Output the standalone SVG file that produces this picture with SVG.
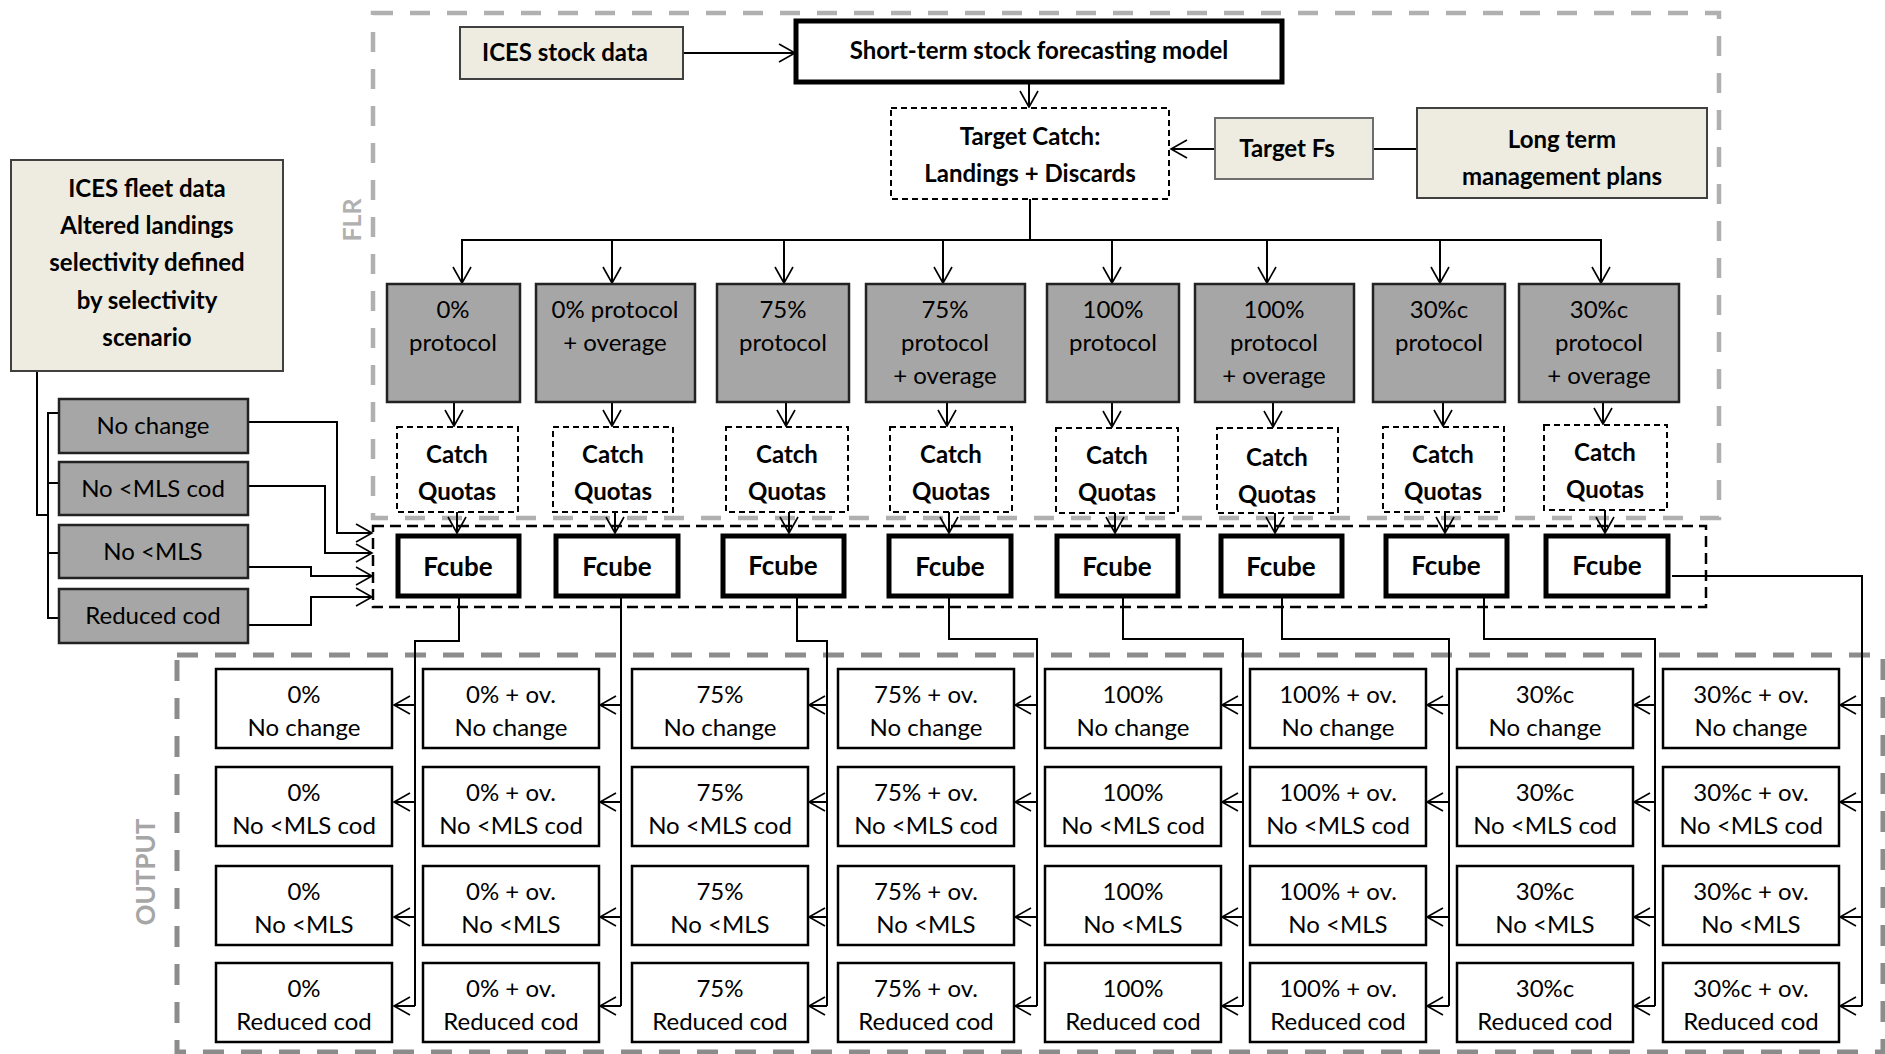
<svg xmlns="http://www.w3.org/2000/svg" width="1885" height="1054" viewBox="0 0 1885 1054">
<defs>
<marker id="arr" markerWidth="20" markerHeight="22" refX="17" refY="10" orient="auto" markerUnits="userSpaceOnUse"><path d="M1,1 L17,10 L1,19" fill="none" stroke="#000" stroke-width="1.6"/></marker>
<style>
text{font-family:Lato,"Liberation Sans",sans-serif;text-anchor:middle;fill:#000}
.b{font-weight:bold}
.t24{font-size:24px}
.beige{fill:#eeece1;stroke:#404040;stroke-width:2}
.grey{fill:#a6a6a6;stroke:#222;stroke-width:2.5}
.out{fill:#fff;stroke:#000;stroke-width:2.5}
.cq{fill:#fff;stroke:#000;stroke-width:2;stroke-dasharray:6 4}
.fc{fill:#fff;stroke:#000;stroke-width:5}
.c{fill:none;stroke:#000;stroke-width:2}
.a{fill:none;stroke:#000;stroke-width:2;marker-end:url(#arr)}
</style>
</defs>
<rect width="1885" height="1054" fill="#fff"/>

<g id="flr-region">
<rect x="373" y="13" width="1346" height="505" fill="none" stroke="#b0b0b0" stroke-width="4.5" stroke-dasharray="20 17"/>
<text class="b" x="352" y="229" font-size="25" style="fill:#b0b0b0" transform="rotate(-90 352 220)">FLR</text>
</g>
<g id="output-region">
<rect x="177" y="655" width="1706" height="397" fill="none" stroke="#8c8c8c" stroke-width="5" stroke-dasharray="21 17"/>
<text class="b" x="146" y="881" font-size="26" style="fill:#a6a6a6" transform="rotate(-90 146 872)">OUTPUT</text>
</g>
<g id="fcube-region">
<rect x="373" y="526" width="1333" height="81" fill="none" stroke="#000" stroke-width="2.5" stroke-dasharray="11 6"/>
</g>

<g id="connectors">
<line class="a" x1="683" y1="53" x2="795" y2="53"/>
<line class="a" x1="1029" y1="84" x2="1029" y2="107"/>
<line class="c" x1="1417" y1="149" x2="1373" y2="149"/>
<line class="a" x1="1215" y1="149" x2="1171" y2="149"/>
<line class="c" x1="1030" y1="199" x2="1030" y2="240"/>
<line class="c" x1="461" y1="240" x2="1602" y2="240"/>
<line class="a" x1="462" y1="240" x2="462" y2="283"/>
<line class="a" x1="612" y1="240" x2="612" y2="283"/>
<line class="a" x1="784" y1="240" x2="784" y2="283"/>
<line class="a" x1="943" y1="240" x2="943" y2="283"/>
<line class="a" x1="1112" y1="240" x2="1112" y2="283"/>
<line class="a" x1="1267" y1="240" x2="1267" y2="283"/>
<line class="a" x1="1440" y1="240" x2="1440" y2="283"/>
<line class="a" x1="1601" y1="240" x2="1601" y2="283"/>
<line class="a" x1="454" y1="403" x2="454" y2="426"/>
<line class="a" x1="612" y1="403" x2="612" y2="426"/>
<line class="a" x1="786" y1="403" x2="786" y2="426"/>
<line class="a" x1="947" y1="403" x2="947" y2="426"/>
<line class="a" x1="1112" y1="403" x2="1112" y2="427"/>
<line class="a" x1="1273" y1="403" x2="1273" y2="427"/>
<line class="a" x1="1443" y1="403" x2="1443" y2="426"/>
<line class="a" x1="1603" y1="403" x2="1603" y2="424"/>
<line class="a" x1="457" y1="512" x2="457" y2="533"/>
<line class="a" x1="615" y1="512" x2="615" y2="533"/>
<line class="a" x1="789" y1="512" x2="789" y2="533"/>
<line class="a" x1="949" y1="512" x2="949" y2="533"/>
<line class="a" x1="1115" y1="513" x2="1115" y2="533"/>
<line class="a" x1="1275" y1="513" x2="1275" y2="533"/>
<line class="a" x1="1445" y1="512" x2="1445" y2="533"/>
<line class="a" x1="1605" y1="510" x2="1605" y2="533"/>
<polyline class="c" points="37,371 37,515 48,515"/>
<line class="c" x1="48" y1="412" x2="48" y2="619"/>
<line class="c" x1="48" y1="413" x2="59" y2="413"/>
<line class="c" x1="48" y1="483" x2="59" y2="483"/>
<line class="c" x1="48" y1="553" x2="59" y2="553"/>
<line class="c" x1="48" y1="618" x2="59" y2="618"/>
<polyline class="a" points="248,422 337,422 337,533 372,533"/>
<polyline class="a" points="248,486 325,486 325,553 372,553"/>
<polyline class="a" points="248,567 311,567 311,576 372,576"/>
<polyline class="a" points="248,625 311,625 311,597 372,597"/>
<polyline class="c" points="459,598 459,641 415,641 415,1006"/>
<polyline class="c" points="621,598 621,1006"/>
<polyline class="c" points="797,598 797,641 827,641 827,1006"/>
<polyline class="c" points="949,598 949,639 1037,639 1037,1006"/>
<polyline class="c" points="1123,598 1123,639 1243,639 1243,1006"/>
<polyline class="c" points="1282,598 1282,639 1449,639 1449,1006"/>
<polyline class="c" points="1484,598 1484,639 1655,639 1655,1006"/>
<polyline class="c" points="1672,576 1862,576 1862,1006"/>
<g id="out-arrows">
<line class="a" x1="415" y1="705" x2="394" y2="705"/><line class="a" x1="415" y1="802" x2="394" y2="802"/><line class="a" x1="415" y1="917" x2="394" y2="917"/><line class="a" x1="415" y1="1006" x2="394" y2="1006"/>
<line class="a" x1="621" y1="705" x2="600" y2="705"/><line class="a" x1="621" y1="802" x2="600" y2="802"/><line class="a" x1="621" y1="917" x2="600" y2="917"/><line class="a" x1="621" y1="1006" x2="600" y2="1006"/>
<line class="a" x1="827" y1="705" x2="809" y2="705"/><line class="a" x1="827" y1="802" x2="809" y2="802"/><line class="a" x1="827" y1="917" x2="809" y2="917"/><line class="a" x1="827" y1="1006" x2="809" y2="1006"/>
<line class="a" x1="1037" y1="705" x2="1015" y2="705"/><line class="a" x1="1037" y1="802" x2="1015" y2="802"/><line class="a" x1="1037" y1="917" x2="1015" y2="917"/><line class="a" x1="1037" y1="1006" x2="1015" y2="1006"/>
<line class="a" x1="1243" y1="705" x2="1222" y2="705"/><line class="a" x1="1243" y1="802" x2="1222" y2="802"/><line class="a" x1="1243" y1="917" x2="1222" y2="917"/><line class="a" x1="1243" y1="1006" x2="1222" y2="1006"/>
<line class="a" x1="1449" y1="705" x2="1427" y2="705"/><line class="a" x1="1449" y1="802" x2="1427" y2="802"/><line class="a" x1="1449" y1="917" x2="1427" y2="917"/><line class="a" x1="1449" y1="1006" x2="1427" y2="1006"/>
<line class="a" x1="1655" y1="705" x2="1634" y2="705"/><line class="a" x1="1655" y1="802" x2="1634" y2="802"/><line class="a" x1="1655" y1="917" x2="1634" y2="917"/><line class="a" x1="1655" y1="1006" x2="1634" y2="1006"/>
<line class="a" x1="1862" y1="705" x2="1840" y2="705"/><line class="a" x1="1862" y1="802" x2="1840" y2="802"/><line class="a" x1="1862" y1="917" x2="1840" y2="917"/><line class="a" x1="1862" y1="1006" x2="1840" y2="1006"/>
</g>
</g>

<g id="ices-stock"><rect class="beige" x="460" y="27" width="223" height="52"/><text class="b t24" x="565" y="61">ICES stock data</text></g>
<g id="short-term"><rect x="796" y="21" width="486" height="61" fill="#fff" stroke="#000" stroke-width="5"/><text class="b" font-size="24" x="1039" y="59">Short-term stock forecasting model</text></g>
<g id="target-catch"><rect class="cq" x="891" y="108" width="278" height="91"/><text class="b t24" x="1030" y="145">Target Catch:</text><text class="b t24" x="1030" y="182">Landings + Discards</text></g>
<g id="target-fs"><rect x="1215" y="118" width="158" height="61" fill="#eeece1" stroke="#6e6e6e" stroke-width="2"/><text class="b t24" x="1287" y="157">Target Fs</text></g>
<g id="ltmp"><rect class="beige" x="1417" y="108" width="290" height="90"/><text class="b t24" x="1562" y="148">Long term</text><text class="b t24" x="1562" y="185">management plans</text></g>

<g id="ices-fleet"><rect class="beige" x="11" y="160" width="272" height="211"/>
<text class="b t24" x="147" y="197">ICES fleet data</text>
<text class="b t24" x="147" y="234">Altered landings</text>
<text class="b t24" x="147" y="271">selectivity defined</text>
<text class="b t24" x="147" y="309">by selectivity</text>
<text class="b t24" x="147" y="346">scenario</text></g>
<g id="sel-no-change"><rect class="grey" x="59" y="399" width="189" height="54"/><text class="t24" x="153" y="434">No change</text></g>
<g id="sel-no-mls-cod"><rect class="grey" x="59" y="462" width="189" height="53"/><text class="t24" x="153" y="497">No &lt;MLS cod</text></g>
<g id="sel-no-mls"><rect class="grey" x="59" y="525" width="189" height="53"/><text class="t24" x="153" y="560">No &lt;MLS</text></g>
<g id="sel-reduced-cod"><rect class="grey" x="59" y="589" width="189" height="54"/><text class="t24" x="153" y="624">Reduced cod</text></g>

<g id="p1"><rect class="grey" x="387" y="284" width="133" height="118"/><text class="t24" x="453" y="318">0%</text><text class="t24" x="453" y="351">protocol</text></g>
<g id="p2"><rect class="grey" x="536" y="284" width="159" height="118"/><text class="t24" x="615" y="318">0% protocol</text><text class="t24" x="615" y="351">+ overage</text></g>
<g id="p3"><rect class="grey" x="717" y="284" width="132" height="118"/><text class="t24" x="783" y="318">75%</text><text class="t24" x="783" y="351">protocol</text></g>
<g id="p4"><rect class="grey" x="866" y="284" width="159" height="118"/><text class="t24" x="945" y="318">75%</text><text class="t24" x="945" y="351">protocol</text><text class="t24" x="945" y="384">+ overage</text></g>
<g id="p5"><rect class="grey" x="1047" y="284" width="132" height="118"/><text class="t24" x="1113" y="318">100%</text><text class="t24" x="1113" y="351">protocol</text></g>
<g id="p6"><rect class="grey" x="1195" y="284" width="159" height="118"/><text class="t24" x="1274" y="318">100%</text><text class="t24" x="1274" y="351">protocol</text><text class="t24" x="1274" y="384">+ overage</text></g>
<g id="p7"><rect class="grey" x="1373" y="284" width="132" height="118"/><text class="t24" x="1439" y="318">30%c</text><text class="t24" x="1439" y="351">protocol</text></g>
<g id="p8"><rect class="grey" x="1519" y="284" width="160" height="118"/><text class="t24" x="1599" y="318">30%c</text><text class="t24" x="1599" y="351">protocol</text><text class="t24" x="1599" y="384">+ overage</text></g>

<g id="cq1"><rect class="cq" x="397" y="427" width="121" height="85"/><text class="b t24" x="457" y="463">Catch</text><text class="b t24" x="457" y="500">Quotas</text></g>
<g id="cq2"><rect class="cq" x="553" y="427" width="120" height="85"/><text class="b t24" x="613" y="463">Catch</text><text class="b t24" x="613" y="500">Quotas</text></g>
<g id="cq3"><rect class="cq" x="726" y="427" width="122" height="85"/><text class="b t24" x="787" y="463">Catch</text><text class="b t24" x="787" y="500">Quotas</text></g>
<g id="cq4"><rect class="cq" x="890" y="427" width="122" height="85"/><text class="b t24" x="951" y="463">Catch</text><text class="b t24" x="951" y="500">Quotas</text></g>
<g id="cq5"><rect class="cq" x="1056" y="428" width="122" height="85"/><text class="b t24" x="1117" y="464">Catch</text><text class="b t24" x="1117" y="501">Quotas</text></g>
<g id="cq6"><rect class="cq" x="1217" y="428" width="121" height="85"/><text class="b t24" x="1277" y="466">Catch</text><text class="b t24" x="1277" y="503">Quotas</text></g>
<g id="cq7"><rect class="cq" x="1383" y="427" width="121" height="85"/><text class="b t24" x="1443" y="463">Catch</text><text class="b t24" x="1443" y="500">Quotas</text></g>
<g id="cq8"><rect class="cq" x="1544" y="425" width="123" height="85"/><text class="b t24" x="1605" y="461">Catch</text><text class="b t24" x="1605" y="498">Quotas</text></g>

<g id="f1"><rect class="fc" x="398" y="536" width="121" height="60"/><text class="b" font-size="26" x="458" y="576">Fcube</text></g>
<g id="f2"><rect class="fc" x="556" y="536" width="122" height="60"/><text class="b" font-size="26" x="617" y="576">Fcube</text></g>
<g id="f3"><rect class="fc" x="723" y="536" width="121" height="60"/><text class="b" font-size="26" x="783" y="575">Fcube</text></g>
<g id="f4"><rect class="fc" x="889" y="536" width="122" height="60"/><text class="b" font-size="26" x="950" y="576">Fcube</text></g>
<g id="f5"><rect class="fc" x="1057" y="536" width="121" height="60"/><text class="b" font-size="26" x="1117" y="576">Fcube</text></g>
<g id="f6"><rect class="fc" x="1221" y="536" width="121" height="60"/><text class="b" font-size="26" x="1281" y="576">Fcube</text></g>
<g id="f7"><rect class="fc" x="1386" y="536" width="121" height="60"/><text class="b" font-size="26" x="1446" y="575">Fcube</text></g>
<g id="f8"><rect class="fc" x="1546" y="536" width="122" height="60"/><text class="b" font-size="26" x="1607" y="575">Fcube</text></g>

<g id="outputs">
<g id="o1-1"><rect class="out" x="216" y="669" width="176" height="79"/><text class="t24" x="304" y="703">0%</text><text class="t24" x="304" y="736">No change</text></g>
<g id="o1-2"><rect class="out" x="216" y="767" width="176" height="79"/><text class="t24" x="304" y="801">0%</text><text class="t24" x="304" y="834">No &lt;MLS cod</text></g>
<g id="o1-3"><rect class="out" x="216" y="866" width="176" height="79"/><text class="t24" x="304" y="900">0%</text><text class="t24" x="304" y="933">No &lt;MLS</text></g>
<g id="o1-4"><rect class="out" x="216" y="963" width="176" height="79"/><text class="t24" x="304" y="997">0%</text><text class="t24" x="304" y="1030">Reduced cod</text></g>

<g id="o2-1"><rect class="out" x="423" y="669" width="176" height="79"/><text class="t24" x="511" y="703">0% + ov.</text><text class="t24" x="511" y="736">No change</text></g>
<g id="o2-2"><rect class="out" x="423" y="767" width="176" height="79"/><text class="t24" x="511" y="801">0% + ov.</text><text class="t24" x="511" y="834">No &lt;MLS cod</text></g>
<g id="o2-3"><rect class="out" x="423" y="866" width="176" height="79"/><text class="t24" x="511" y="900">0% + ov.</text><text class="t24" x="511" y="933">No &lt;MLS</text></g>
<g id="o2-4"><rect class="out" x="423" y="963" width="176" height="79"/><text class="t24" x="511" y="997">0% + ov.</text><text class="t24" x="511" y="1030">Reduced cod</text></g>

<g id="o3-1"><rect class="out" x="632" y="669" width="176" height="79"/><text class="t24" x="720" y="703">75%</text><text class="t24" x="720" y="736">No change</text></g>
<g id="o3-2"><rect class="out" x="632" y="767" width="176" height="79"/><text class="t24" x="720" y="801">75%</text><text class="t24" x="720" y="834">No &lt;MLS cod</text></g>
<g id="o3-3"><rect class="out" x="632" y="866" width="176" height="79"/><text class="t24" x="720" y="900">75%</text><text class="t24" x="720" y="933">No &lt;MLS</text></g>
<g id="o3-4"><rect class="out" x="632" y="963" width="176" height="79"/><text class="t24" x="720" y="997">75%</text><text class="t24" x="720" y="1030">Reduced cod</text></g>

<g id="o4-1"><rect class="out" x="838" y="669" width="176" height="79"/><text class="t24" x="926" y="703">75% + ov.</text><text class="t24" x="926" y="736">No change</text></g>
<g id="o4-2"><rect class="out" x="838" y="767" width="176" height="79"/><text class="t24" x="926" y="801">75% + ov.</text><text class="t24" x="926" y="834">No &lt;MLS cod</text></g>
<g id="o4-3"><rect class="out" x="838" y="866" width="176" height="79"/><text class="t24" x="926" y="900">75% + ov.</text><text class="t24" x="926" y="933">No &lt;MLS</text></g>
<g id="o4-4"><rect class="out" x="838" y="963" width="176" height="79"/><text class="t24" x="926" y="997">75% + ov.</text><text class="t24" x="926" y="1030">Reduced cod</text></g>

<g id="o5-1"><rect class="out" x="1045" y="669" width="176" height="79"/><text class="t24" x="1133" y="703">100%</text><text class="t24" x="1133" y="736">No change</text></g>
<g id="o5-2"><rect class="out" x="1045" y="767" width="176" height="79"/><text class="t24" x="1133" y="801">100%</text><text class="t24" x="1133" y="834">No &lt;MLS cod</text></g>
<g id="o5-3"><rect class="out" x="1045" y="866" width="176" height="79"/><text class="t24" x="1133" y="900">100%</text><text class="t24" x="1133" y="933">No &lt;MLS</text></g>
<g id="o5-4"><rect class="out" x="1045" y="963" width="176" height="79"/><text class="t24" x="1133" y="997">100%</text><text class="t24" x="1133" y="1030">Reduced cod</text></g>

<g id="o6-1"><rect class="out" x="1250" y="669" width="176" height="79"/><text class="t24" x="1338" y="703">100% + ov.</text><text class="t24" x="1338" y="736">No change</text></g>
<g id="o6-2"><rect class="out" x="1250" y="767" width="176" height="79"/><text class="t24" x="1338" y="801">100% + ov.</text><text class="t24" x="1338" y="834">No &lt;MLS cod</text></g>
<g id="o6-3"><rect class="out" x="1250" y="866" width="176" height="79"/><text class="t24" x="1338" y="900">100% + ov.</text><text class="t24" x="1338" y="933">No &lt;MLS</text></g>
<g id="o6-4"><rect class="out" x="1250" y="963" width="176" height="79"/><text class="t24" x="1338" y="997">100% + ov.</text><text class="t24" x="1338" y="1030">Reduced cod</text></g>

<g id="o7-1"><rect class="out" x="1457" y="669" width="176" height="79"/><text class="t24" x="1545" y="703">30%c</text><text class="t24" x="1545" y="736">No change</text></g>
<g id="o7-2"><rect class="out" x="1457" y="767" width="176" height="79"/><text class="t24" x="1545" y="801">30%c</text><text class="t24" x="1545" y="834">No &lt;MLS cod</text></g>
<g id="o7-3"><rect class="out" x="1457" y="866" width="176" height="79"/><text class="t24" x="1545" y="900">30%c</text><text class="t24" x="1545" y="933">No &lt;MLS</text></g>
<g id="o7-4"><rect class="out" x="1457" y="963" width="176" height="79"/><text class="t24" x="1545" y="997">30%c</text><text class="t24" x="1545" y="1030">Reduced cod</text></g>

<g id="o8-1"><rect class="out" x="1663" y="669" width="176" height="79"/><text class="t24" x="1751" y="703">30%c + ov.</text><text class="t24" x="1751" y="736">No change</text></g>
<g id="o8-2"><rect class="out" x="1663" y="767" width="176" height="79"/><text class="t24" x="1751" y="801">30%c + ov.</text><text class="t24" x="1751" y="834">No &lt;MLS cod</text></g>
<g id="o8-3"><rect class="out" x="1663" y="866" width="176" height="79"/><text class="t24" x="1751" y="900">30%c + ov.</text><text class="t24" x="1751" y="933">No &lt;MLS</text></g>
<g id="o8-4"><rect class="out" x="1663" y="963" width="176" height="79"/><text class="t24" x="1751" y="997">30%c + ov.</text><text class="t24" x="1751" y="1030">Reduced cod</text></g>
</g>
</svg>
